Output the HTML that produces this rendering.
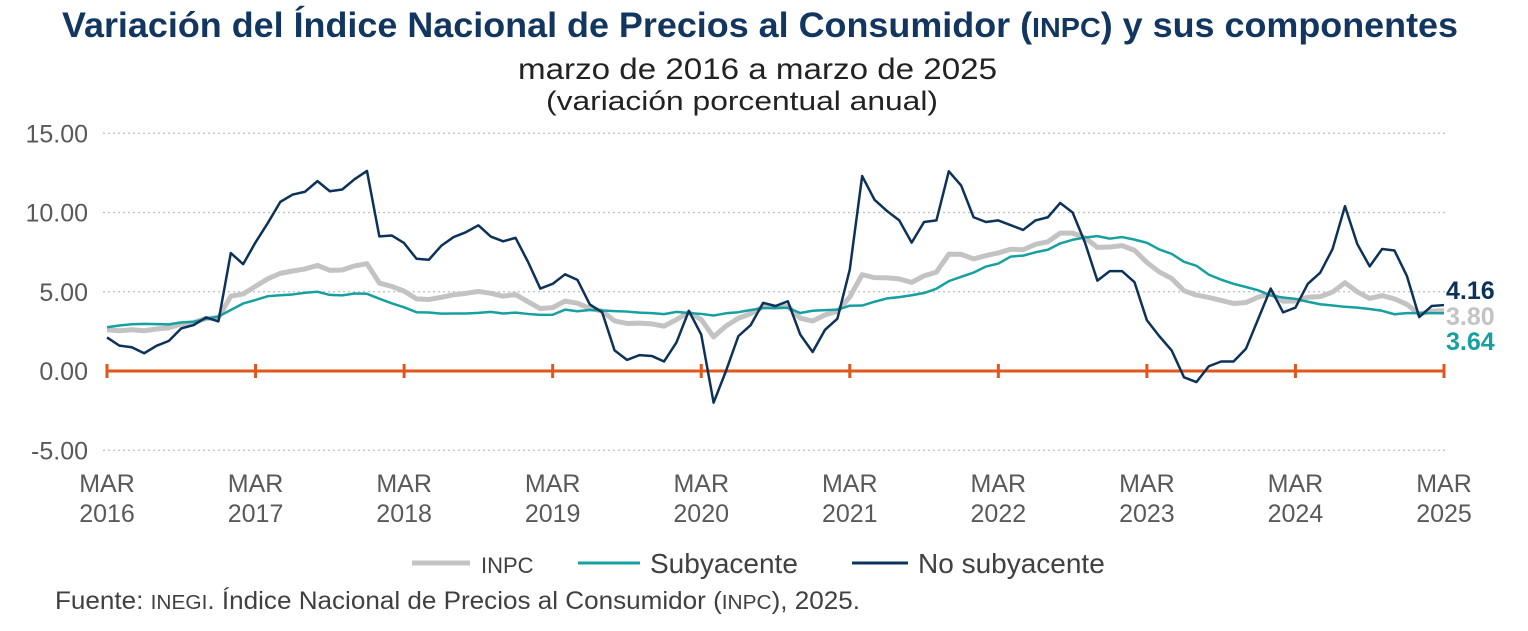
<!DOCTYPE html>
<html><head><meta charset="utf-8"><style>
body{margin:0;background:#fff;width:1528px;height:626px;overflow:hidden;font-family:"Liberation Sans",sans-serif}
</style></head><body>
<svg width="1528" height="626" style="font-family:'Liberation Sans',sans-serif">
<text x="62" y="37" font-size="35" font-weight="bold" fill="#12365f" textLength="1396" lengthAdjust="spacingAndGlyphs">Variación del Índice Nacional de Precios al Consumidor (<tspan font-size="28">INPC</tspan>) y sus componentes</text>
<text x="518" y="79" font-size="30" fill="#222" textLength="479" lengthAdjust="spacingAndGlyphs">marzo de 2016 a marzo de 2025</text>
<text x="546" y="110" font-size="27" fill="#222" textLength="392" lengthAdjust="spacingAndGlyphs">(variación porcentual anual)</text>
<g id="grid"></g><g id="yt"></g><g id="xt"></g><g id="series"></g>
<g>
<line x1="412" y1="563" x2="470" y2="563" stroke="#c3c3c3" stroke-width="5"/>
<text x="481" y="573" font-size="22" fill="#404040">INPC</text>
<line x1="578" y1="563" x2="640" y2="563" stroke="#17a0a0" stroke-width="3"/>
<text x="650" y="573" font-size="28" fill="#404040">Subyacente</text>
<line x1="852" y1="563" x2="908" y2="563" stroke="#0d3259" stroke-width="3"/>
<text x="918" y="573" font-size="28" fill="#404040">No subyacente</text>
</g>
<text x="55" y="609" font-size="25" fill="#404040" textLength="805" lengthAdjust="spacingAndGlyphs">Fuente: <tspan font-size="20">INEGI</tspan>. Índice Nacional de Precios al Consumidor (<tspan font-size="20">INPC</tspan>), 2025.</text>
</svg>
<script>
const yTicks=[15,10,5,0,-5];
const yLabels=["15.00","10.00","5.00","0.00","-5.00"];
const xYears=["2016","2017","2018","2019","2020","2021","2022","2023","2024","2025"];
const inpc=[2.60,2.54,2.60,2.54,2.65,2.73,2.97,3.06,3.31,3.36,
4.72,4.86,5.35,5.82,6.16,6.31,6.44,6.66,6.35,6.37,6.63,6.77,
5.55,5.34,5.04,4.55,4.51,4.65,4.81,4.90,5.02,4.90,4.72,4.83,
4.37,3.94,4.00,4.41,4.28,3.95,3.78,3.16,3.00,3.02,2.97,2.83,
3.24,3.70,3.25,2.15,2.84,3.33,3.62,4.05,4.01,4.09,3.33,3.15,
3.54,3.76,4.67,6.08,5.89,5.88,5.81,5.59,6.00,6.24,7.37,7.36,
7.07,7.28,7.45,7.68,7.65,7.99,8.15,8.70,8.70,8.41,7.80,7.82,
7.91,7.62,6.85,6.25,5.84,5.06,4.79,4.64,4.45,4.26,4.32,4.66,
4.88,4.40,4.42,4.65,4.69,4.98,5.57,4.99,4.58,4.76,4.55,4.21,
3.59,3.77,3.80];
const subyacente=[2.76,2.87,2.95,2.97,2.96,2.94,3.07,3.10,3.29,3.44,
3.85,4.26,4.48,4.72,4.78,4.83,4.94,5.00,4.80,4.77,4.89,4.87,
4.56,4.27,4.02,3.71,3.69,3.62,3.63,3.63,3.67,3.73,3.63,3.68,
3.60,3.54,3.55,3.87,3.77,3.85,3.82,3.78,3.75,3.68,3.65,3.59,
3.73,3.66,3.60,3.50,3.64,3.71,3.85,3.97,3.99,3.98,3.66,3.80,
3.84,3.87,4.12,4.13,4.37,4.58,4.66,4.78,4.92,5.19,5.67,5.94,
6.21,6.59,6.78,7.22,7.28,7.49,7.65,8.05,8.28,8.42,8.51,8.35,
8.45,8.29,8.09,7.67,7.39,6.89,6.64,6.08,5.76,5.50,5.30,5.09,
4.76,4.64,4.55,4.37,4.21,4.13,4.05,4.00,3.91,3.80,3.58,3.65,
3.66,3.65,3.64];
const noSubyacente=[2.12,1.60,1.50,1.12,1.59,1.90,2.69,2.90,3.38,3.13,
7.44,6.74,8.12,9.35,10.67,11.13,11.31,11.98,11.34,11.45,12.10,12.62,
8.49,8.55,8.07,7.08,7.02,7.90,8.45,8.76,9.19,8.48,8.18,8.40,
6.90,5.20,5.50,6.10,5.75,4.20,3.70,1.30,0.70,1.00,0.95,0.60,
1.80,3.80,2.30,-2.00,0.00,2.20,2.90,4.30,4.10,4.40,2.30,1.20,
2.60,3.30,6.40,12.30,10.80,10.10,9.50,8.10,9.40,9.50,12.60,11.70,
9.70,9.40,9.50,9.20,8.90,9.50,9.70,10.60,10.00,8.10,5.70,6.30,
6.30,5.60,3.20,2.20,1.30,-0.40,-0.70,0.30,0.60,0.60,1.40,3.30,
5.20,3.70,4.00,5.50,6.20,7.70,10.40,8.00,6.60,7.70,7.60,6.00,
3.40,4.10,4.16];
const X0=107,X1=1444,Y0=371,PX=15.85;
const N=inpc.length;
const xs=i=>X0+(X1-X0)*i/(N-1);
const ys=v=>Y0-v*PX;
const S='http://www.w3.org/2000/svg';
function mk(t,a,p){const e=document.createElementNS(S,t);for(const k in a)e.setAttribute(k,a[k]);p.appendChild(e);return e;}
const grid=document.getElementById('grid'),yt=document.getElementById('yt'),xt=document.getElementById('xt'),ser=document.getElementById('series');
yTicks.forEach((v,i)=>{
 if(v!==0){const g=mk('line',{x1:103,x2:1448,y1:ys(v),y2:ys(v),stroke:'#bdbdbd','stroke-width':1.3,'stroke-dasharray':'2 3'},grid);
 
 }
 const t=mk('text',{x:88,y:ys(v)+9,'text-anchor':'end','font-size':25,fill:'#595959'},yt);t.textContent=yLabels[i];
 
 
});
const ax=mk('line',{x1:X0,x2:X1,y1:Y0,y2:Y0,stroke:'#e0561c','stroke-width':3},xt);


xYears.forEach((yr,i)=>{
 const x=xs(i*12);
 const tk=mk('line',{x1:x,x2:x,y1:Y0-7,y2:Y0+7,stroke:'#e0561c','stroke-width':3},xt);
 
 
 const t=mk('text',{x:x,y:492,'text-anchor':'middle','font-size':25,fill:'#595959'},xt);
 
 
 mk('tspan',{x:x},t).textContent='MAR';
 mk('tspan',{x:x,dy:30},t).textContent=yr;
});
function line(d,c,w,n){
 const p=mk('polyline',{points:d.map((v,i)=>xs(i)+','+ys(v)).join(' '),fill:'none',stroke:c,'stroke-width':w,'stroke-linejoin':'round'},ser);
 
 
}
line(inpc,'#c3c3c3',5,'inpc-line');
line(subyacente,'#17a0a0',2.5,'subyacente-line');
line(noSubyacente,'#0d3259',2.5,'no-subyacente-line');
[[noSubyacente,'#0d3259','label-no-subyacente-last',299],[inpc,'#c3c3c3','label-inpc-last',325],[subyacente,'#17a0a0','label-subyacente-last',350]].forEach(a=>{
 const t=mk('text',{x:1446,y:a[3],'font-size':25,'font-weight':'bold',fill:a[1]},ser);
 t.textContent=a[0][a[0].length-1].toFixed(2);
 
 
});
</script>
</body></html>
